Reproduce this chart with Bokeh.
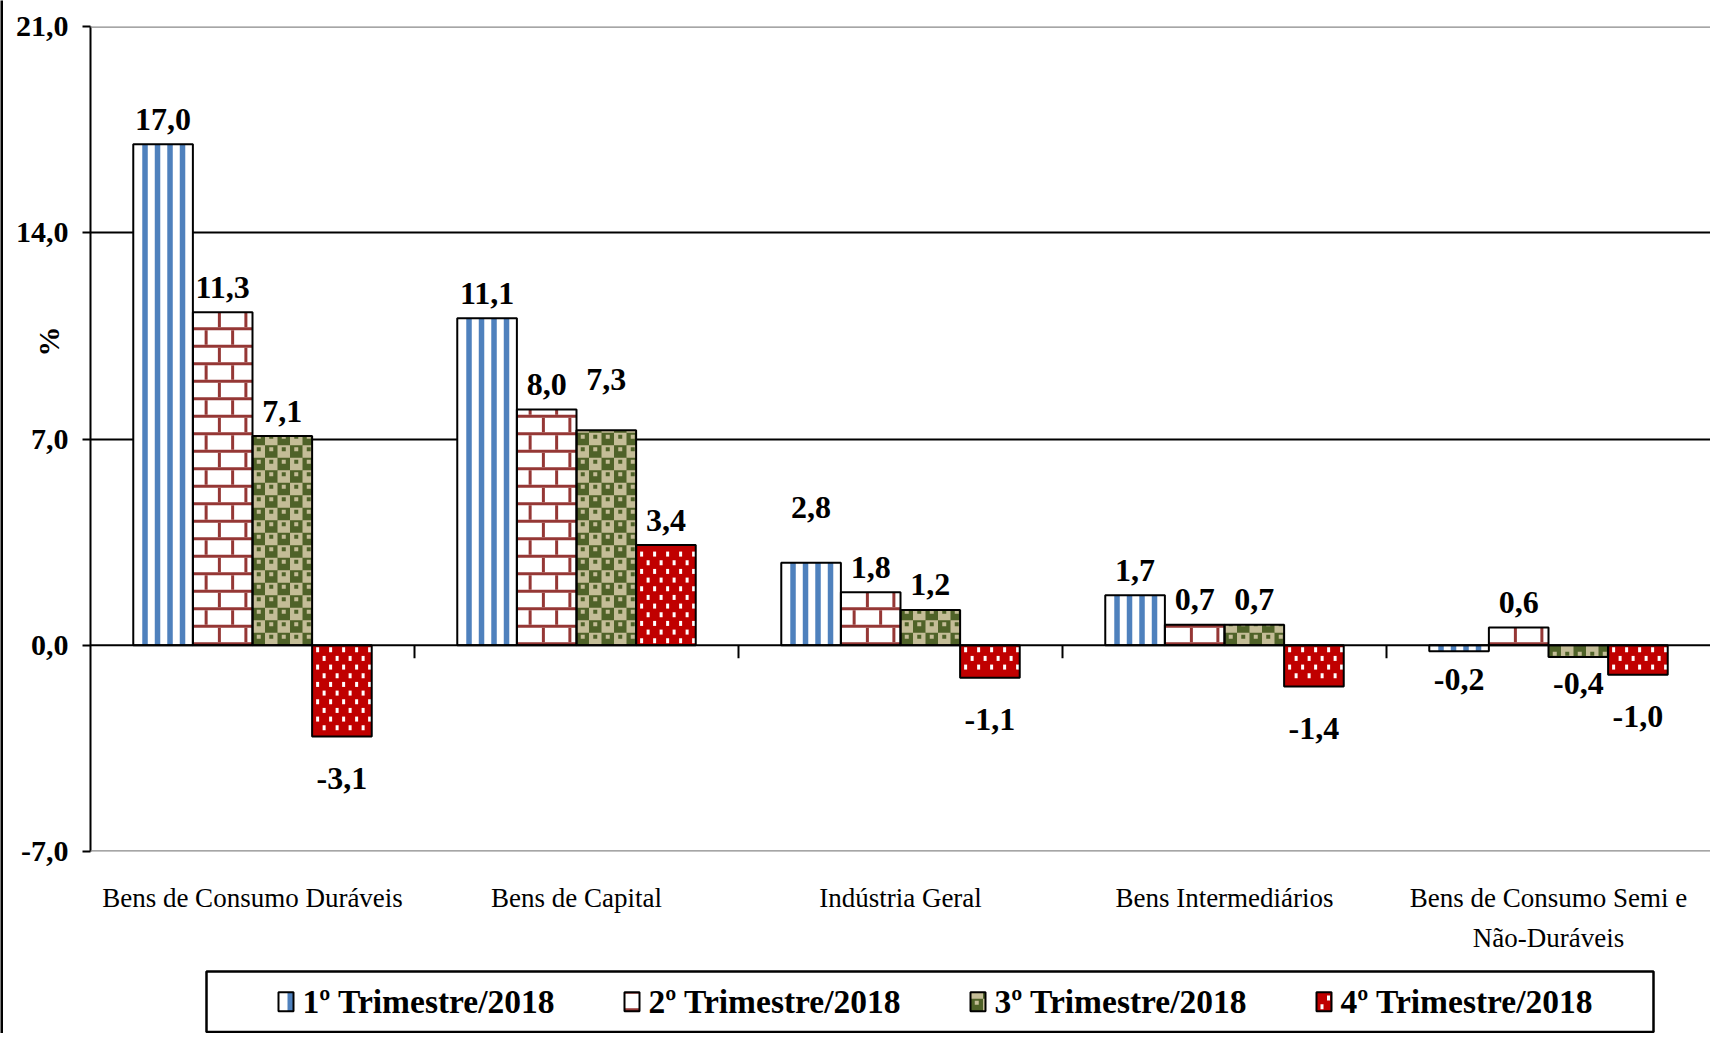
from bokeh.plotting import figure
from bokeh.models import (Range1d, FixedTicker, CustomJSTickFormatter, Span,
                          ColumnDataSource, LinearAxis)
from bokeh.layouts import column, row
from bokeh.core.properties import value
from bokeh.embed import file_html
from bokeh.resources import INLINE

# ---------------- data ----------------
categories = ["Bens de Consumo Duráveis", "Bens de Capital", "Indústria Geral",
              "Bens Intermediários", "Bens de Consumo Semi e\nNão-Duráveis"]
series_names = ["1º Trimestre/2018", "2º Trimestre/2018",
                "3º Trimestre/2018", "4º Trimestre/2018"]
q1 = [17.0, 11.1, 2.8, 1.7, -0.2]
q2 = [11.3, 8.0, 1.8, 0.7, 0.6]
q3 = [7.1, 7.3, 1.2, 0.7, -0.4]
q4 = [-3.1, 3.4, -1.1, -1.4, -1.0]
y_ticks = [-7, 0, 7, 14, 21]
y_axis_title = "%"

series = [q1, q2, q3, q4]

# ---------------- styles ----------------
SERIF = "Liberation Serif"
BLUE, BRICK, OLIVE, TAN, RED = "#4F81BD", "#953735", "#4F6228", "#C4BD97", "#C00000"
base_fill = ["white", "white", OLIVE, RED]
kinds = ["stripes", "bricks", "checker", "dots"]


def pattern_rects(kind, W, H):
    """Pattern pieces inside a W x H px swatch: (u0, u1, w0, w1, color), clipped."""
    out = []

    def add(u0, u1, w0, w1, c):
        u0, u1 = max(0, u0), min(W, u1)
        w0, w1 = max(0, w0), min(H, w1)
        if u1 - u0 > 0.3 and w1 - w0 > 0.3:
            out.append((u0, u1, w0, w1, c))

    if kind == "stripes":
        u = 9.0
        while u < W:
            add(u, u + 5.5, 0, H, BLUE)
            u += 12.5
    elif kind == "bricks":
        rh, bw, lw = 17.5, 26.5, 3
        k = 0
        while k * rh < H:
            w0 = k * rh
            add(0, W, w0, w0 + lw, BRICK)
            u = bw if k % 2 == 0 else bw / 2
            while u - lw / 2 < W:
                add(u - lw / 2, u + lw / 2, w0 + lw, (k + 1) * rh, BRICK)
                u += bw
            k += 1
    elif kind == "checker":
        cs = 12.5
        j = 0
        while j * cs < H:
            i = 0
            while i * cs < W:
                u0, w0 = i * cs, j * cs
                tan = (i + j) % 2 == 1
                if tan:
                    add(u0, u0 + cs, w0, w0 + cs, TAN)
                add(u0 + 4.25, u0 + 8.25, w0 + 6.5, w0 + 10.5, OLIVE if tan else TAN)
                i += 1
            j += 1
    elif kind == "dots":
        rp, cp = 26 / 3, 13.0
        r = 0
        while 2 + r * rp + 5 <= H:
            w0 = 2 + r * rp
            u = 4 + (cp / 2 if r % 2 else 0)
            while u + 3 <= W:
                add(u, u + 3, w0, w0 + 5, "white")
                u += cp
            r += 1
    return out


# ---------------- geometry ----------------
EDGE = 3                      # width of the chart-area border strip on the left
PAGE_W = 1710
FIG_W, FIG_H = PAGE_W - EDGE, 969
FRAME_L = 90                  # page x of the plotting frame's left edge
B_LEFT, B_TOP, B_BOTTOM = FRAME_L - EDGE, 26, 118
frame_w = FIG_W - B_LEFT
frame_h = FIG_H - B_TOP - B_BOTTOM
y0, y1 = y_ticks[0], y_ticks[-1]
ncat = len(categories)
kx = ncat / frame_w          # data units per px
ky = (y1 - y0) / frame_h
bar_w = 0.184
offsets = [(j - 1.5) * bar_w for j in range(len(series))]
centers = [i + 0.5 for i in range(ncat)]

p = figure(width=FIG_W, height=FIG_H, output_backend="svg", toolbar_location=None,
           x_range=Range1d(0, ncat), y_range=Range1d(y0, y1),
           min_border_left=B_LEFT, min_border_top=B_TOP, min_border_bottom=B_BOTTOM,
           min_border_right=0)
p.outline_line_color = None
p.background_fill_color = "white"
p.border_fill_color = "white"

# grid
p.xgrid.visible = False
p.ygrid.ticker = FixedTicker(ticks=[t for t in y_ticks if t not in (y0, 0, y1)])
p.ygrid.grid_line_color = "black"
p.ygrid.grid_line_width = 2
for loc in (y0, y1):
    p.add_layout(Span(location=loc, dimension="width", line_color="#898989", line_width=2.5))

# bars: base fill, pattern pieces, outline
pieces = {}
for j, vals in enumerate(series):
    xs = [c + offsets[j] for c in centers]
    p.vbar(x=xs, top=vals, bottom=0, width=bar_w, fill_color=base_fill[j], line_color=None)
    W = bar_w / kx
    for x, v in zip(xs, vals):
        H = abs(v) / ky
        sgn = 1 if v >= 0 else -1
        xl = x - bar_w / 2
        for (u0, u1, w0, w1, c) in pattern_rects(kinds[j], W, H):
            d = pieces.setdefault(c, dict(l=[], r=[], b=[], t=[]))
            ya_, yb_ = sgn * w0 * ky, sgn * w1 * ky
            d["l"].append(xl + u0 * kx)
            d["r"].append(xl + u1 * kx)
            d["b"].append(min(ya_, yb_))
            d["t"].append(max(ya_, yb_))
for c, d in pieces.items():
    p.quad(left="l", right="r", bottom="b", top="t", source=ColumnDataSource(d),
           fill_color=c, line_color=None)
for j, vals in enumerate(series):
    xs = [c + offsets[j] for c in centers]
    p.vbar(x=xs, top=vals, bottom=0, width=bar_w, fill_color=None,
           line_color="black", line_width=2)

# zero line and category boundary ticks
p.add_layout(Span(location=0, dimension="width", line_color="black", line_width=2))
tick_units = 13 * ky
bounds = list(range(1, ncat))
p.segment(x0=bounds, y0=[0] * len(bounds), x1=bounds, y1=[-tick_units] * len(bounds),
          line_color="black", line_width=2)

# data labels
pos_gap = -25
neg_gap = [28, 28, 26, 42]
nudge = {(1, 2): -26, (2, 0): -30}
lx, ly, lt, ld = [], [], [], []
for j, vals in enumerate(series):
    for i, v in enumerate(vals):
        lx.append(centers[i] + offsets[j])
        ly.append(v)
        lt.append(f"{v:.1f}".replace(".", ","))
        ld.append((pos_gap if v >= 0 else neg_gap[j]) + nudge.get((i, j), 0))
p.text(x="x", y="y", text="t", y_offset="d",
       source=ColumnDataSource(dict(x=lx, y=ly, t=lt, d=ld)),
       text_font=value(SERIF), text_font_style="bold", text_font_size="32px",
       text_align="center", text_baseline="middle", text_color="black")

# y axis
ya = p.yaxis[0]
ya.ticker = FixedTicker(ticks=y_ticks)
ya.formatter = CustomJSTickFormatter(code="return tick.toFixed(1).replace('.', ',');")
ya.axis_line_color = "black"
ya.axis_line_width = 2
ya.major_tick_line_color = "black"
ya.major_tick_line_width = 2
ya.major_tick_out = 8
ya.major_tick_in = 0
ya.minor_tick_line_color = None
ya.major_label_standoff = 14
ya.major_label_text_font = SERIF
ya.major_label_text_font_style = "bold"
ya.major_label_text_font_size = "30px"
ya.major_label_text_color = "black"

# "%" title: an extra left axis carrying only the label; no-break spaces lift it upwards
pa = LinearAxis(ticker=FixedTicker(ticks=[]), axis_label="\u00a0" * 26 + y_axis_title,
                axis_line_color=None, major_tick_line_color=None, minor_tick_line_color=None,
                major_label_text_font_size="0px", axis_label_standoff=-52,
                axis_label_text_font=SERIF, axis_label_text_font_style="bold",
                axis_label_text_font_size="30px", axis_label_text_color="black")
p.add_layout(pa, "left")

# x axis (category labels)
xa = p.xaxis[0]
xa.ticker = FixedTicker(ticks=centers)
xa.formatter = CustomJSTickFormatter(args=dict(names=categories),
                                     code="return names[Math.round(tick - 0.5)];")
xa.axis_line_color = None
xa.major_tick_line_color = None
xa.minor_tick_line_color = None
xa.major_label_standoff = 25
xa.major_label_text_font = SERIF
xa.major_label_text_font_size = "27px"
xa.major_label_text_color = "black"
xa.major_label_text_line_height = 1.36

# ---------------- legend box (separate figure; its frame is aligned with the chart's,
# so its x range is expressed in page pixels from FRAME_L to PAGE_W) ----------------
LH = 64
BOX_L, BOX_R = 206, 1653
lg = figure(width=FIG_W, height=LH, output_backend="svg", toolbar_location=None,
            x_range=Range1d(FRAME_L, PAGE_W), y_range=Range1d(0, LH),
            x_axis_type=None, y_axis_type=None,
            min_border_left=B_LEFT, min_border_right=0, min_border_top=0, min_border_bottom=0)
lg.outline_line_color = None
lg.background_fill_color = "white"
lg.border_fill_color = "white"
lg.grid.visible = False
lg.quad(left=[BOX_L], right=[BOX_R], bottom=[1.5], top=[LH - 2],
        fill_color="white", line_color="black", line_width=2.5)
SW, SH, first_x, pitch, txt_gap = 15, 19, BOX_L + 72, 346, 24
mid = (1.5 + LH - 2) / 2
sb = mid - SH / 2
lpieces = {}
for j, name in enumerate(series_names):
    sx = first_x + j * pitch
    lg.quad(left=[sx], right=[sx + SW], bottom=[sb], top=[sb + SH],
            fill_color=base_fill[j], line_color=None)
    for (u0, u1, w0, w1, c) in pattern_rects(kinds[j], SW, SH):
        d = lpieces.setdefault(c, dict(l=[], r=[], b=[], t=[]))
        d["l"].append(sx + u0)
        d["r"].append(sx + u1)
        d["b"].append(sb + w0)
        d["t"].append(sb + w1)
for c, d in lpieces.items():
    lg.quad(left="l", right="r", bottom="b", top="t", source=ColumnDataSource(d),
            fill_color=c, line_color=None)
lg.quad(left=[first_x + j * pitch for j in range(4)],
        right=[first_x + j * pitch + SW for j in range(4)],
        bottom=[sb] * 4, top=[sb + SH] * 4, fill_color=None, line_color="black", line_width=2)
lg.text(x=[first_x + j * pitch + txt_gap for j in range(4)], y=[mid] * 4, text=series_names,
        text_font=value(SERIF), text_font_style="bold", text_font_size="33.5px",
        text_align="left", text_baseline="middle", text_color="black")

# left border strip of the chart area
edge = figure(width=EDGE, height=FIG_H + LH, output_backend="svg", toolbar_location=None,
              x_axis_type=None, y_axis_type=None, min_border=0,
              x_range=Range1d(0, 1), y_range=Range1d(0, 1))
edge.outline_line_color = None
edge.background_fill_color = "black"
edge.border_fill_color = "black"
edge.grid.visible = False

layout = row(edge, column(p, lg, spacing=0), spacing=0)
open("out.html", "w").write(file_html(layout, INLINE))
